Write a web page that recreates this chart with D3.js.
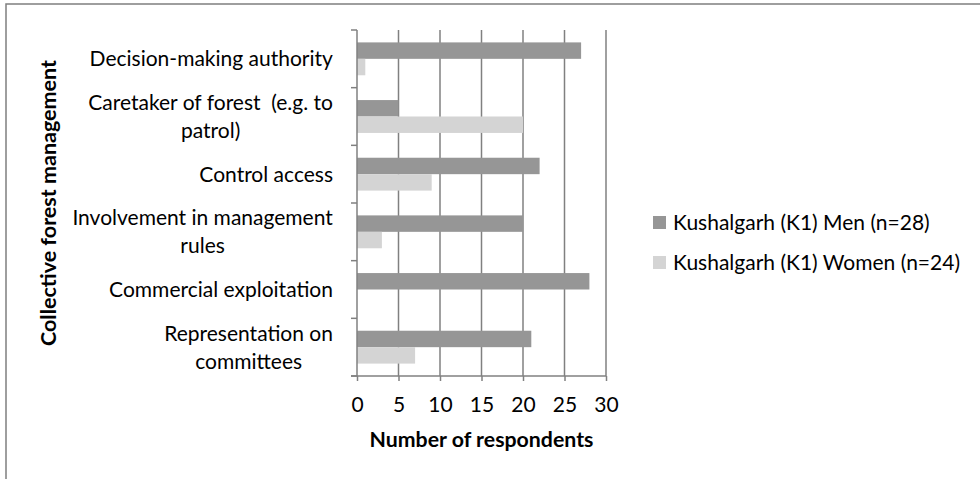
<!DOCTYPE html>
<html>
<head>
<meta charset="utf-8">
<script src="https://cdn.jsdelivr.net/npm/d3@7"></script>
<style>
  body { margin: 0; background: #fff; }
  svg text { font-family: Lato, "Open Sans", sans-serif; fill: #000; white-space: pre; }
</style>
</head>
<body>
<div id="chart"></div>
<script>
// categories top to bottom, labels split into lines like the original
let categories = [
  ["Decision-making authority"],
  ["Caretaker of forest  (e.g. to", "patrol)"],
  ["Control access"],
  ["Involvement in management", "rules"],
  ["Commercial exploitation"],
  ["Representation on", "committees"]
];
let menValues = [27, 5, 22, 20, 28, 21];
let womenValues = [1, 20, 9, 3, 0, 7];
let seriesNames = ["Kushalgarh (K1) Men (n=28)", "Kushalgarh (K1) Women (n=24)"];
let xTicks = [0, 5, 10, 15, 20, 25, 30];

var width = 980, height = 479;
var plot = { left: 357, right: 606, top: 30, bottom: 376 };
var colors = ["#969696", "#d4d4d4"];
var axisGray = "#808080";
var fontSize = 21;

var svg = d3.select("#chart").append("svg")
  .attr("width", width)
  .attr("height", height);

// outer frame (open at right/bottom edge of the picture)
svg.append("rect")
  .attr("x", 6).attr("y", 4)
  .attr("width", 990).attr("height", 500)
  .attr("fill", "none")
  .attr("stroke", "#7f7f7f")
  .attr("stroke-width", 1.5);

var x = d3.scaleLinear().domain([0, 30]).range([plot.left, plot.right]);
var idx = d3.range(categories.length);
var y = d3.scaleBand().domain(idx).range([plot.top, plot.bottom])
  .paddingInner(0.43).paddingOuter(0.215);
var ySub = d3.scaleBand().domain([0, 1]).range([0, y.bandwidth()]);

// vertical gridlines
svg.append("g").selectAll("line")
  .data(xTicks.slice(1))
  .enter().append("line")
  .attr("x1", d => x(d)).attr("x2", d => x(d))
  .attr("y1", plot.top).attr("y2", plot.bottom)
  .attr("stroke", axisGray)
  .attr("stroke-width", 1.5);

// bars
var rows = idx.map(i => [menValues[i], womenValues[i]]);
var group = svg.append("g").selectAll("g")
  .data(rows)
  .enter().append("g")
  .attr("transform", (d, i) => "translate(0," + y(i) + ")");
group.selectAll("rect")
  .data(d => d)
  .enter().append("rect")
  .attr("x", x(0))
  .attr("y", (d, j) => ySub(j))
  .attr("width", d => x(d) - x(0))
  .attr("height", ySub.bandwidth())
  .attr("fill", (d, j) => colors[j]);

// x axis
var xAxis = d3.axisBottom(x).tickValues(xTicks).tickSize(5).tickPadding(16);
var gx = svg.append("g")
  .attr("transform", "translate(0," + plot.bottom + ")")
  .call(xAxis);
gx.select(".domain").remove();
gx.selectAll(".tick line").attr("stroke", axisGray).attr("stroke-width", 1.5);
gx.selectAll(".tick text").attr("font-size", fontSize).attr("fill", "#000")
  .style("font-family", "Lato, 'Open Sans', sans-serif");
svg.append("line")
  .attr("x1", plot.left - 6).attr("x2", plot.right)
  .attr("y1", plot.bottom).attr("y2", plot.bottom)
  .attr("stroke", axisGray).attr("stroke-width", 1.5);

// y axis line and band boundary ticks
svg.append("line")
  .attr("x1", plot.left).attr("x2", plot.left)
  .attr("y1", plot.top).attr("y2", plot.bottom)
  .attr("stroke", axisGray).attr("stroke-width", 1.5);
var step = (plot.bottom - plot.top) / categories.length;
svg.append("g").selectAll("line")
  .data(d3.range(categories.length + 1))
  .enter().append("line")
  .attr("x1", plot.left - 6).attr("x2", plot.left)
  .attr("y1", d => plot.top + d * step).attr("y2", d => plot.top + d * step)
  .attr("stroke", axisGray).attr("stroke-width", 1.5);

// category labels
var lineH = 28;
svg.append("g").selectAll("text")
  .data(categories)
  .enter().append("text")
  .attr("text-anchor", "middle")
  .attr("font-size", fontSize)
  .each(function (lines, i) {
    var cy = plot.top + (i + 0.5) * step;
    var t = d3.select(this);
    lines.forEach((s, k) => {
      t.append("tspan")
        .attr("x", 0)
        .attr("y", cy + (k - (lines.length - 1) / 2) * lineH)
        .attr("dy", "0.35em")
        .text(s);
    });
    // right-align the block to the axis, center lines within it
    var w = this.getBBox().width;
    t.attr("transform", "translate(" + (plot.left - 24 - w / 2) + ",0)");
  });

// axis titles
svg.append("text")
  .attr("x", (plot.left + plot.right) / 2).attr("y", 440)
  .attr("dy", "0.35em")
  .attr("text-anchor", "middle")
  .attr("font-size", 21.3).attr("font-weight", "bold")
  .text("Number of respondents");
svg.append("text")
  .attr("transform", "translate(48," + (plot.top + plot.bottom) / 2 + ") rotate(-90)")
  .attr("dy", "0.35em")
  .attr("text-anchor", "middle")
  .attr("font-size", 21.5).attr("font-weight", "bold")
  .text("Collective forest management");

// legend
var legend = svg.append("g").selectAll("g")
  .data(seriesNames)
  .enter().append("g")
  .attr("transform", (d, i) => "translate(653," + (223 + i * 40) + ")");
legend.append("rect")
  .attr("x", 0).attr("y", -7)
  .attr("width", 13).attr("height", 13)
  .attr("fill", (d, i) => colors[i]);
legend.append("text")
  .attr("x", 20).attr("dy", "0.35em")
  .attr("font-size", fontSize)
  .text(d => d);
</script>
</body>
</html>
